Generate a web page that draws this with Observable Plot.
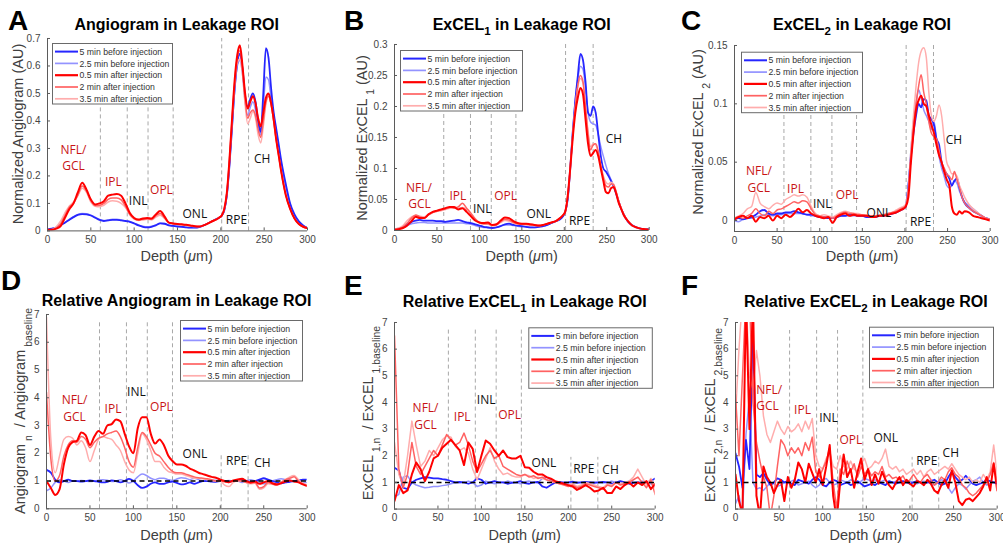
<!DOCTYPE html>
<html><head><meta charset="utf-8">
<script src="https://cdn.jsdelivr.net/npm/d3@7"></script>
<script src="https://cdn.jsdelivr.net/npm/@observablehq/plot@0.6"></script>
<style>
body{margin:0;background:#fff;}
#fig{position:relative;width:1003px;height:546px;overflow:hidden;background:#fff;}
#fig svg{position:absolute;}
</style></head>
<body><div id="fig"></div>
<script>
// ---------------- DATA ----------------
const depthTop = [0,5,10,15,20,25,30,35,40,45,50,55,60,65,70,75,80,85,90,95,100,105,110,115,120,125,130,135,140,145,150,155,160,165,170,175,180,185,190,195,
198,201,204,207,210,213,216,219,222,225,228,231,234,237,240,243,246,249,252,255,258,261,264,267,270,
275,280,285,290,295,300];
const depthRel = [0,5,10,15,20,25,30,35,40,45,50,55,60,65,70,75,80,85,90,95,100,105,110,115,120,125,130,135,140,145,150,155,160,165,170,175,180,185,190,195,200,205,210,215,220,225,230,235,240,245,250,255,260,265,270,275,280,285,290,295,300];
const depthF = [0,4,8,12,16,20,24,28,32,36,40,44,48,52,56,60,64,68,72,76,80,84,88,92,96,100,104,108,112,116,120,124,128,132,136,140,144,148,152,156,160,164,168,172,176,180,184,188,192,196,200,204,208,212,216,220,224,228,232,236,240,244,248,252,256,260,264,268,272,276,280,284,288,292,296,300];

const seriesNames = ["5 min before injection","2.5 min before injection","0.5 min after injection","2 min after injection","3.5 min after injection"];
const xTicks = [0,50,100,150,200,250,300];
const yTicksA = [0,0.1,0.2,0.3,0.4,0.5,0.6,0.7];
const yTicksB = [0,0.05,0.1,0.15,0.2,0.25,0.3];
const yTicksC = [0,0.05,0.1,0.15];
const yTicksRel = [0,1,2,3,4,5,6,7];
const layerNames = ["NFL/","GCL","IPL","INL","OPL","ONL","RPE","CH"];
const layerIsRed = [true,true,true,false,true,false,false,false];
const boundsA = [61,92,116,145,201,232];
const boundsB = [58,89.5,114,143,201.5,234];
const boundsC = [58,89.6,114.3,143.2,201.4,233.5];
const boundsD = [61,92,116,145,201,232];
const boundsE = [62,93,117,146,203,234];
const boundsF = [62,93,117,146,202.5,233];

// A: Normalized angiogram
const angio5 = [0.005,0.008,0.012,0.02,0.03,0.04,0.05,0.058,0.061,0.06,
0.056,0.048,0.04,0.036,0.038,0.04,0.04,0.038,0.036,0.033,
0.027,0.02,0.015,0.013,0.015,0.02,0.027,0.026,0.02,0.018,
0.016,0.015,0.013,0.012,0.012,0.014,0.02,0.027,0.035,0.043,
0.048,0.055,0.075,0.13,0.24,0.38,0.52,0.61,0.645,0.59,0.49,0.45,0.48,0.5,0.47,0.4,0.36,0.5,0.665,0.63,0.52,0.43,0.37,0.31,0.25,
0.17,0.1,0.06,0.035,0.02,0.01];
const angio25 = [0.005,0.008,0.012,0.02,0.03,0.042,0.052,0.06,0.063,0.062,
0.057,0.05,0.042,0.038,0.04,0.042,0.042,0.04,0.037,0.034,
0.028,0.022,0.017,0.015,0.017,0.022,0.028,0.027,0.021,0.018,
0.016,0.015,0.013,0.012,0.012,0.014,0.02,0.027,0.035,0.043,
0.048,0.055,0.075,0.13,0.24,0.38,0.51,0.6,0.62,0.57,0.47,0.42,0.45,0.47,0.44,0.38,0.35,0.45,0.56,0.55,0.48,0.42,0.36,0.3,0.24,
0.16,0.095,0.055,0.032,0.018,0.01];
const angio05 = [0.004,0.004,0.008,0.017,0.047,0.078,0.1,0.14,0.175,0.15,
0.114,0.096,0.1,0.108,0.128,0.132,0.134,0.128,0.1,0.065,
0.047,0.041,0.045,0.047,0.045,0.06,0.072,0.053,0.03,0.027,
0.025,0.024,0.022,0.02,0.017,0.016,0.02,0.027,0.035,0.042,
0.048,0.056,0.08,0.14,0.26,0.41,0.55,0.64,0.675,0.6,0.5,0.445,0.47,0.49,0.465,0.41,0.38,0.43,0.484,0.5,0.465,0.405,0.33,0.27,0.21,
0.13,0.08,0.045,0.025,0.015,0.01];
const angio2 = [0.004,0.004,0.01,0.025,0.055,0.085,0.1,0.13,0.163,0.145,
0.11,0.092,0.093,0.1,0.115,0.12,0.12,0.113,0.09,0.06,
0.045,0.04,0.042,0.044,0.042,0.055,0.063,0.048,0.03,0.026,
0.024,0.023,0.021,0.019,0.017,0.016,0.02,0.027,0.035,0.042,
0.048,0.056,0.08,0.14,0.26,0.41,0.54,0.63,0.655,0.59,0.48,0.41,0.43,0.44,0.42,0.37,0.34,0.4,0.47,0.49,0.46,0.4,0.33,0.27,0.21,
0.13,0.08,0.045,0.025,0.015,0.01];
const angio35 = [0.004,0.005,0.015,0.035,0.065,0.09,0.105,0.128,0.155,0.14,
0.105,0.09,0.088,0.093,0.105,0.11,0.108,0.1,0.085,0.058,
0.043,0.038,0.04,0.042,0.04,0.05,0.057,0.045,0.03,0.026,
0.024,0.022,0.02,0.018,0.016,0.016,0.02,0.027,0.035,0.042,
0.048,0.056,0.08,0.14,0.26,0.4,0.53,0.61,0.625,0.57,0.46,0.39,0.41,0.435,0.41,0.35,0.32,0.38,0.46,0.49,0.46,0.4,0.33,0.27,0.21,
0.13,0.08,0.045,0.025,0.015,0.01];

// B: Normalized ExCEL1
const excel1_5 = [0.002,0.003,0.005,0.01,0.014,0.016,0.017,0.016,0.016,0.016,
0.015,0.015,0.014,0.015,0.016,0.017,0.015,0.013,0.012,0.01,
0.008,0.006,0.005,0.004,0.005,0.007,0.01,0.011,0.009,0.008,
0.007,0.006,0.005,0.005,0.006,0.007,0.009,0.012,0.015,0.018,
0.022,0.03,0.05,0.1,0.16,0.21,0.25,0.285,0.275,0.24,0.19,0.185,0.2,0.19,0.155,0.12,0.1,0.095,0.088,0.08,0.072,0.06,0.047,0.035,0.026,
0.014,0.008,0.005,0.003,0.002,0.002];
const excel1_25 = [0.002,0.003,0.005,0.008,0.011,0.012,0.013,0.013,0.012,0.012,
0.012,0.012,0.012,0.012,0.012,0.012,0.012,0.011,0.01,0.008,
0.006,0.005,0.004,0.004,0.005,0.007,0.009,0.009,0.008,0.007,
0.006,0.006,0.005,0.005,0.006,0.007,0.009,0.012,0.015,0.018,
0.022,0.03,0.05,0.1,0.16,0.21,0.245,0.265,0.26,0.23,0.19,0.175,0.172,0.17,0.155,0.135,0.12,0.105,0.092,0.082,0.072,0.06,0.047,0.035,0.026,
0.015,0.009,0.005,0.003,0.002,0.002];
const excel1_05 = [0.001,0.002,0.004,0.008,0.015,0.022,0.02,0.02,0.026,0.03,
0.032,0.034,0.036,0.038,0.038,0.034,0.036,0.03,0.023,0.016,
0.013,0.012,0.013,0.009,0.01,0.016,0.021,0.02,0.015,0.012,
0.011,0.011,0.01,0.009,0.008,0.009,0.011,0.013,0.015,0.02,
0.024,0.03,0.055,0.1,0.15,0.19,0.215,0.23,0.22,0.18,0.14,0.12,0.125,0.13,0.12,0.1,0.08,0.062,0.06,0.068,0.07,0.06,0.045,0.035,0.025,
0.015,0.008,0.005,0.003,0.002,0.001];
const excel1_2 = [0.001,0.003,0.006,0.012,0.02,0.025,0.022,0.02,0.025,0.029,
0.031,0.033,0.035,0.037,0.036,0.038,0.044,0.036,0.028,0.019,
0.013,0.011,0.011,0.008,0.009,0.014,0.018,0.017,0.013,0.011,
0.01,0.01,0.009,0.009,0.008,0.009,0.011,0.013,0.015,0.02,
0.024,0.03,0.055,0.1,0.155,0.2,0.235,0.25,0.24,0.2,0.155,0.13,0.138,0.14,0.128,0.105,0.085,0.072,0.07,0.075,0.074,0.063,0.048,0.036,0.026,
0.015,0.008,0.005,0.003,0.002,0.001];
const excel1_35 = [0.002,0.004,0.008,0.016,0.022,0.024,0.023,0.022,0.026,0.029,
0.031,0.032,0.034,0.036,0.038,0.036,0.037,0.034,0.026,0.018,
0.012,0.01,0.01,0.008,0.009,0.013,0.016,0.015,0.012,0.01,
0.01,0.009,0.009,0.008,0.008,0.009,0.011,0.013,0.015,0.02,
0.024,0.03,0.055,0.1,0.155,0.2,0.232,0.245,0.238,0.2,0.16,0.135,0.14,0.138,0.125,0.105,0.088,0.078,0.075,0.078,0.075,0.063,0.048,0.036,0.026,
0.015,0.008,0.005,0.003,0.002,0.001];

// C: Normalized ExCEL2
const excel2_5 = [0.001,0.002,0.001,0.002,0.003,0.005,0.008,0.009,0.006,0.005,
0.006,0.006,0.007,0.007,0.008,0.007,0.006,0.005,0.005,0.004,
0.003,0.003,0.002,0.002,0.003,0.004,0.004,0.005,0.005,0.004,
0.004,0.003,0.003,0.003,0.004,0.004,0.005,0.006,0.007,0.009,
0.01,0.012,0.03,0.055,0.075,0.09,0.1,0.097,0.104,0.103,0.09,0.087,0.082,0.07,0.065,0.05,0.043,0.04,0.036,0.03,0.034,0.036,0.028,0.02,0.015,
0.011,0.008,0.006,0.004,0.002,0.001];
const excel2_25 = [0.0,-0.001,0.001,0.002,0.002,0.003,0.004,0.005,0.005,0.004,
0.005,0.005,0.006,0.006,0.006,0.006,0.006,0.005,0.004,0.004,
0.003,0.002,0.002,0.002,0.003,0.004,0.004,0.004,0.004,0.004,
0.004,0.003,0.003,0.003,0.004,0.004,0.005,0.006,0.007,0.009,
0.01,0.012,0.03,0.06,0.085,0.1,0.112,0.105,0.095,0.09,0.085,0.078,0.085,0.07,0.055,0.045,0.038,0.03,0.028,0.03,0.034,0.032,0.025,0.02,0.016,
0.013,0.01,0.007,0.004,0.002,0.001];
const excel2_05 = [0.001,0.003,0.004,0.002,0.004,-0.001,0.003,0.002,0.004,0.0,
0.004,0.002,0.005,0.003,0.006,0.01,0.007,0.009,0.006,0.004,
0.003,0.002,0.003,-0.002,0.003,0.005,0.006,0.004,0.005,0.004,
0.004,0.004,0.003,0.003,0.004,0.004,0.005,0.006,0.007,0.009,
0.01,0.012,0.02,0.05,0.075,0.095,0.103,0.107,0.1,0.098,0.09,0.082,0.075,0.065,0.056,0.05,0.042,0.035,0.03,0.012,0.006,0.005,0.008,0.006,0.008,
0.007,0.004,0.003,0.002,0.001,0.0];
const excel2_2 = [0.002,0.003,0.002,0.004,0.006,0.01,0.006,0.004,0.008,0.006,
0.009,0.01,0.012,0.014,0.016,0.015,0.017,0.016,0.01,0.005,
0.004,0.003,0.003,0.002,0.004,0.006,0.007,0.006,0.006,0.005,
0.005,0.004,0.004,0.004,0.004,0.005,0.006,0.007,0.008,0.01,
0.011,0.013,0.025,0.055,0.08,0.1,0.115,0.125,0.11,0.1,0.085,0.075,0.072,0.07,0.06,0.05,0.045,0.04,0.038,0.035,0.042,0.035,0.028,0.02,0.015,
0.011,0.008,0.006,0.004,0.002,0.001];
const excel2_35 = [0.002,0.004,0.006,0.01,0.012,0.024,0.015,0.012,0.01,0.013,
0.015,0.014,0.018,0.02,0.022,0.021,0.022,0.02,0.012,0.006,
0.004,0.005,0.004,0.003,0.005,0.007,0.008,0.007,0.006,0.006,
0.005,0.005,0.004,0.004,0.005,0.005,0.006,0.007,0.009,0.011,
0.012,0.014,0.028,0.06,0.09,0.115,0.135,0.145,0.148,0.14,0.11,0.09,0.085,0.09,0.099,0.09,0.07,0.05,0.045,0.04,0.04,0.038,0.03,0.025,0.02,
0.014,0.01,0.007,0.004,0.002,0.001];

// D: Relative angiogram
const relAngio5 = [1.4,1.3,1.05,0.95,1.0,1.05,1.0,1.0,0.98,1.0,
1.02,1.0,0.97,0.95,0.97,1.02,1.0,0.95,1.0,1.08,
1.0,0.85,0.75,0.8,0.9,0.95,0.9,0.9,0.95,0.98,
0.93,0.88,0.9,0.95,0.9,0.95,1.0,1.0,0.98,0.97,
1.0,1.0,0.98,1.0,1.0,1.05,1.0,0.95,1.0,1.05,
1.1,1.05,1.0,0.95,0.92,0.95,0.97,1.0,1.02,1.05,1.05];
const relAngio25 = [0.65,0.75,0.95,1.05,1.0,0.95,1.0,1.0,1.02,1.0,
0.98,1.0,1.03,1.05,1.03,0.98,1.0,1.05,1.0,0.93,
1.0,1.15,1.25,1.2,1.1,1.05,1.1,1.1,1.05,1.02,
1.07,1.12,1.1,1.05,1.1,1.05,1.0,1.0,1.02,1.03,
1.0,1.0,1.02,1.0,1.0,0.95,1.0,1.05,1.0,0.95,
0.9,0.95,1.0,1.05,1.08,1.05,1.03,1.0,0.98,0.95,0.95];
const relAngio05 = [1.0,0.75,0.5,0.7,1.6,2.2,2.4,2.45,2.75,2.65,
2.3,2.6,2.8,2.7,3.0,3.05,3.22,3.15,2.7,2.25,
2.0,2.9,3.3,3.3,2.7,2.35,2.5,2.3,1.92,1.72,
1.6,1.6,1.55,1.45,1.38,1.3,1.25,1.2,1.15,1.12,
1.05,1.0,0.96,1.02,1.06,1.08,1.0,0.95,0.98,0.9,
0.95,1.0,0.92,0.88,0.92,0.98,1.02,0.98,0.95,0.88,0.82];
const relAngio2 = [4.2,1.8,1.0,1.2,1.9,2.3,2.45,2.4,2.6,2.5,
2.2,2.4,2.55,2.6,2.7,2.75,2.8,2.6,2.2,1.7,
1.5,2.2,2.75,2.6,2.3,2.0,1.9,1.7,1.5,1.35,
1.3,1.3,1.25,1.2,1.15,1.12,1.1,1.08,1.05,1.0,
1.02,0.97,0.95,1.0,1.02,1.0,0.95,0.92,0.95,0.75,
0.8,0.95,0.9,0.85,0.95,1.05,1.1,1.15,1.0,0.9,0.85];
const relAngio35 = [6.9,2.5,1.3,1.9,2.5,2.6,2.55,2.3,2.45,2.2,
1.7,2.1,2.5,2.6,2.55,2.5,2.3,2.1,1.7,1.4,
1.3,2.0,2.7,2.5,2.1,1.7,1.7,1.5,1.35,1.3,
1.25,1.25,1.2,1.15,1.1,1.1,1.08,1.05,1.02,1.0,
1.0,0.85,0.8,0.95,1.0,1.0,0.95,0.9,0.92,0.7,
0.75,0.9,0.88,0.85,0.95,1.05,1.15,1.2,1.05,0.92,0.85];

// E: Relative ExCEL1
const relExcel1_5 = [1.55,1.45,0.8,0.75,1.0,1.1,1.15,1.2,1.18,1.15,
1.15,1.12,1.1,1.05,1.0,1.02,1.0,0.95,1.0,1.15,
1.1,0.95,1.0,1.05,1.0,1.0,0.95,0.98,1.0,1.05,
0.97,0.95,1.0,1.02,0.85,0.8,0.9,1.0,1.02,0.98,
1.0,1.03,0.98,1.0,1.02,1.0,0.98,1.0,1.02,1.0,
0.95,1.0,1.05,1.0,0.95,0.98,1.0,0.95,1.0,1.05,1.15];
const relExcel1_25 = [0.45,0.55,1.2,1.25,1.0,0.9,0.85,0.8,0.82,0.85,
0.85,0.88,0.9,0.95,1.0,0.98,1.0,1.05,1.0,0.85,
0.9,1.05,1.0,0.95,1.0,1.0,1.05,1.02,1.0,0.95,
1.03,1.05,1.0,0.98,1.15,1.2,1.1,1.0,0.98,1.02,
1.0,0.97,1.02,1.0,0.98,1.0,1.02,1.0,0.98,1.0,
1.05,1.0,0.95,1.0,1.05,1.02,1.0,1.05,1.0,0.95,0.85];
const relExcel1_05 = [0.3,0.9,0.6,0.7,1.3,1.75,1.5,1.05,1.4,1.9,
2.0,2.3,2.45,2.6,2.4,2.2,1.65,2.5,2.26,1.39,
2.0,2.57,2.45,2.2,2.0,2.2,1.95,1.9,1.9,2.0,
1.57,1.55,1.4,1.3,1.3,1.2,1.14,1.05,1.0,0.95,
0.9,0.85,0.72,0.8,0.9,0.8,0.66,0.7,0.8,0.6,
0.6,0.85,0.75,0.9,1.0,0.85,1.0,0.9,1.05,0.75,0.95];
const relExcel1_2 = [6.5,1.5,0.8,1.3,2.5,1.6,1.3,1.6,1.9,2.2,
2.0,2.4,2.8,2.6,2.4,2.5,2.85,2.4,1.8,1.4,
1.7,2.0,2.2,1.9,2.0,1.6,1.5,1.4,1.3,1.25,
1.3,1.2,1.25,1.15,1.2,1.1,1.05,1.0,0.95,0.9,
0.85,0.9,0.8,0.85,0.95,0.9,0.85,0.8,0.75,0.9,
0.85,1.0,0.9,0.95,1.0,1.1,1.2,1.0,0.8,1.1,0.55];
const relExcel1_35 = [2.5,1.3,0.9,2.0,3.3,2.4,1.6,1.8,2.2,2.0,
2.3,2.6,2.75,2.7,2.35,2.2,2.3,2.1,1.5,1.1,
1.5,1.9,2.3,1.8,1.5,1.3,1.35,1.25,1.2,1.2,
1.3,1.25,1.15,1.2,1.15,1.1,1.05,1.0,0.95,0.92,
0.9,0.95,0.85,0.9,1.0,0.95,0.9,0.85,0.8,0.95,
0.9,1.0,0.95,1.0,1.05,1.2,1.5,1.2,0.9,1.15,0.8];

// F: Relative ExCEL2
const relExcel2_5 = [2.1,1.6,0.8,2.6,1.5,6.6,1.3,1.2,1.35,1.1,
0.9,1.0,1.15,1.1,1.0,1.05,0.95,0.9,1.1,1.05,
1.0,0.95,1.1,1.2,1.1,0.9,0.85,1.0,1.1,1.05,
0.9,0.95,1.0,0.9,0.95,1.05,0.95,0.85,0.9,0.95,
0.9,1.0,0.95,0.9,1.05,1.0,0.95,1.0,1.05,1.0,
0.95,1.0,1.05,1.0,0.95,1.0,1.05,1.1,1.0,0.9,
0.95,1.2,1.4,1.2,1.05,1.1,1.25,1.1,0.95,0.9,
0.95,1.0,1.1,1.05,1.0,0.95];
const relExcel2_25 = [0.2,0.5,-0.2,2.8,4.2,1.0,0.75,0.8,0.7,0.85,
1.0,0.95,0.85,0.9,1.0,0.95,1.05,1.1,0.9,0.95,
1.0,1.05,0.9,0.8,0.9,1.1,1.15,1.0,0.9,0.95,
1.1,1.05,1.0,1.1,1.05,0.95,1.05,1.15,1.1,1.05,
1.1,1.0,1.05,1.1,0.95,1.0,1.05,1.0,0.95,1.0,
1.05,1.0,0.95,1.0,1.05,1.0,0.95,0.9,1.0,1.1,
1.05,0.8,0.6,0.8,0.95,0.9,0.75,0.9,1.05,1.1,
1.2,1.0,0.9,0.95,1.0,1.05];
const relExcel2_05 = [1.3,0.3,-0.2,8,3.0,8,0.5,-0.3,1.6,1.2,
1.0,0.6,0.9,1.1,0.3,1.2,0.8,1.1,1.75,1.5,
1.0,1.7,1.35,1.0,1.5,0.9,1.6,2.4,0.5,-0.4,
1.0,2.05,1.2,1.5,0.8,1.4,1.9,1.1,1.5,0.9,
1.3,0.95,1.4,1.1,0.9,0.75,1.0,1.2,0.9,1.1,
0.95,0.85,1.05,1.0,0.9,1.1,0.95,0.7,0.6,0.9,
1.1,0.8,1.45,1.0,0.3,0.15,0.35,0.4,0.3,0.45,
0.6,0.85,1.2,0.7,1.7,0.7];
const relExcel2_2 = [4.3,2.0,5.0,8,8,4.0,2.5,1.8,1.2,0.8,
-0.3,0.5,1.6,2.6,2.4,2.0,2.3,2.1,2.3,2.0,
2.5,2.2,2.7,1.4,1.2,1.5,1.8,2.3,1.0,0.0,
1.5,1.3,1.8,1.4,1.7,1.2,1.6,1.3,1.5,1.25,
1.4,1.3,1.6,1.2,1.3,1.15,1.2,1.1,1.25,1.0,
1.1,1.3,1.1,1.0,1.2,1.3,1.1,0.9,1.0,1.2,
1.1,1.4,1.55,1.3,1.2,0.9,0.8,0.6,0.5,0.6,
0.75,0.9,1.0,1.3,1.75,1.0];
const relExcel2_35 = [3.5,6.0,8,8,5.0,4.5,5.95,5.0,3.5,2.8,
2.5,2.9,3.3,3.0,2.8,3.1,2.9,3.0,3.2,2.9,
3.3,3.0,3.4,2.0,1.6,1.5,1.9,2.1,1.6,1.5,
2.0,1.6,1.5,1.8,1.5,1.4,1.7,1.9,1.5,1.6,
1.8,1.7,1.9,2.25,1.6,1.5,1.6,1.4,1.5,1.3,
1.4,1.5,1.3,1.45,1.2,1.4,1.5,1.3,1.4,1.5,
1.6,1.5,1.7,1.5,1.3,1.2,1.1,1.2,1.0,1.1,
1.0,1.3,1.1,1.4,2.4,1.3];

// ---------------- STYLE / LAYOUT ----------------
const colors = ["#2626ff","#9393ff","#ff0000","#ff6262","#ffadad"];
const widths = [1.8,1.5,2,1.5,1.5];
const drawOrder = [1,0,4,3,2];
const RED = "#c81414", BLACK = "#111";
const FONT = "'Liberation Sans', Arial, Helvetica, sans-serif";

const panels = [
  {box:[46.7,306.7,38.3,230.7], yDomain:[0,0.7], yTicks:yTicksA, depth:depthTop, series:[angio5,angio25,angio05,angio2,angio35],
   bounds:boundsA, shortTop:0.45, curve:"monotone-x",
   lab:[[30,0.292],[30,0.236],[76,0.177],[104.6,0.11],[131.5,0.15],[170,0.062],[218,0.038],[247.7,0.26]]},
  {box:[394.3,649,44,230], yDomain:[0,0.3], yTicks:yTicksB, depth:depthTop, series:[excel1_5,excel1_25,excel1_05,excel1_2,excel1_35],
   bounds:boundsB, shortTop:0.193, curve:"monotone-x",
   lab:[[28.7,0.069],[29.5,0.043],[74.6,0.055],[103.3,0.035],[130.8,0.056],[170,0.026],[218,0.0145],[258.4,0.147]]},
  {box:[734.3,990,45,231], yDomain:[-0.0094,0.15], yTicks:yTicksC, depth:depthTop, series:[excel2_5,excel2_25,excel2_05,excel2_2,excel2_35],
   bounds:boundsC, shortTop:0.09, curve:"monotone-x",
   lab:[[28.6,0.042],[28.6,0.028],[71.6,0.027],[102.9,0.0143],[132.2,0.0214],[169.4,0.0063],[218.3,-0.0014],[257.4,0.0686]]},
  {box:[46,306.7,314,508.3], yDomain:[0,7], yTicks:yTicksRel, depth:depthRel, series:[relAngio5,relAngio25,relAngio05,relAngio2,relAngio35],
   bounds:boundsD, shortTop:6.75, longTop:2.0, curve:"monotone-x", baseline:true,
   lab:[[32.3,3.92],[32.3,3.3],[76.5,3.58],[103.5,4.2],[132.3,3.66],[170.8,1.96],[218.8,1.7],[248.5,1.66]]},
  {box:[394.3,655,321.7,508.3], yDomain:[0,7], yTicks:yTicksRel, depth:depthRel, series:[relExcel1_5,relExcel1_25,relExcel1_05,relExcel1_2,relExcel1_35],
   bounds:boundsE, shortTop:6.75, longTop:1.94, curve:"linear", baseline:true,
   lab:[[35.7,3.78],[35.7,3.16],[77.9,3.43],[105.5,4.1],[132.4,3.54],[171.9,1.73],[217.9,1.51],[248.6,1.45]]},
  {box:[735,996.7,321.7,508.3], yDomain:[0,7], yTicks:yTicksRel, depth:depthF, series:[relExcel2_5,relExcel2_25,relExcel2_05,relExcel2_2,relExcel2_35],
   bounds:boundsF, shortTop:6.7, longTop:1.94, curve:"linear", baseline:true,
   lab:[[38.6,4.47],[36.7,3.86],[76.8,3.7],[106.6,3.41],[132.2,2.58],[172.3,2.66],[219.3,1.79],[246.8,2.08]]}
];

const fig = document.getElementById("fig");

function makePanel(p){
  const mL=40,mR=14,mT=8,mB=22;
  const [L,R,T,B] = p.box;
  const fw=R-L, fh=B-T;
  const [y0,y1] = p.yDomain;
  const longTop = p.longTop ?? y1;
  const bnds = p.bounds.map((x,i)=>({x, top: i<4 ? p.shortTop : longTop}));
  const labels = layerNames.map((t,i)=>({t, x:p.lab[i][0], y:p.lab[i][1], c: layerIsRed[i]?RED:BLACK}));
  const marks = [
    Plot.ruleX(bnds,{x:"x", y1:()=>y0, y2:"top", stroke:"#a8a8a8", strokeWidth:1, strokeDasharray:"4,3"})
  ];
  for (const k of drawOrder){
    const rows = p.series[k].map((v,i)=>({depth:p.depth[i], v}));
    marks.push(Plot.line(rows,{x:"depth", y:"v", stroke:colors[k], strokeWidth:widths[k], curve:p.curve, clip:true}));
  }
  if (p.baseline) marks.push(Plot.ruleY([1],{stroke:"#000", strokeWidth:1.6, strokeDasharray:"5,3.5"}));
  marks.push(Plot.text(labels,{x:"x", y:"y", text:"t", fill:"c", fontSize:12, fontFamily:"'Open Sans', sans-serif"}));
  marks.push(Plot.ruleY([y0],{stroke:"#5a5a5a"}));
  marks.push(Plot.ruleX([0],{stroke:"#5a5a5a"}));
  marks.push(Plot.tickX(xTicks,{x:d=>d, insetTop: fh-3, stroke:"#5a5a5a"}));
  marks.push(Plot.tickY(p.yTicks,{y:d=>d, insetRight: fw-3, stroke:"#5a5a5a"}));
  marks.push(Plot.axisX(xTicks,{tickSize:0, tickPadding:5, fontSize:10, label:null, tickFormat:d=>String(d)}));
  marks.push(Plot.axisY(p.yTicks,{tickSize:0, tickPadding:7, fontSize:10, label:null, tickFormat:d=>String(d)}));
  const svg = Plot.plot({
    width: fw+mL+mR, height: fh+mT+mB,
    marginLeft:mL, marginRight:mR, marginTop:mT, marginBottom:mB,
    x:{domain:[0,300], label:null},
    y:{domain:p.yDomain, label:null},
    color:{type:"identity"},
    style:{fontFamily:FONT, fontSize:"10px", color:"#444", background:"transparent", overflow:"visible"},
    marks
  });
  svg.style.position="absolute";
  svg.style.left=(L-mL)+"px";
  svg.style.top=(T-mT)+"px";
  fig.appendChild(svg);
}
panels.forEach(makePanel);

// ---------------- OVERLAY TEXT / LEGENDS ----------------
const ov = d3.select(fig).append("svg").attr("width",1003).attr("height",546)
  .style("left","0px").style("top","0px").style("pointer-events","none")
  .attr("font-family",FONT);

function rich(sel, parts, subShift){
  let shifted = false;
  for (const [t,kind] of parts){
    const ts = sel.append("tspan").text(t);
    if (kind==="sub"){
      ts.attr("font-size","72%");
      if(!shifted){ts.attr("dy",subShift); shifted=true;}
    } else {
      if(shifted){ts.attr("dy",-subShift); shifted=false;}
      if(kind==="it") ts.attr("font-style","italic");
    }
  }
}

// panel letters
[["A",8,30],["B",344,30],["C",681,30],["D",1,290],["E",344,295],["F",681,295]].forEach(([t,x,y])=>{
  ov.append("text").attr("x",x).attr("y",y).attr("font-size",28).attr("font-weight","bold").attr("fill","#000").text(t);
});

// titles
const titles = [
  [176.7,29.5,[["Angiogram in Leakage ROI","n"]]],
  [521.7,29.5,[["ExCEL","n"],["1","sub"],[" in Leakage ROI","n"]]],
  [862,29.5,[["ExCEL","n"],["2","sub"],[" in Leakage ROI","n"]]],
  [176.5,305.5,[["Relative Angiogram in Leakage ROI","n"]]],
  [524.7,307,[["Relative ExCEL","n"],["1","sub"],[" in Leakage ROI","n"]]],
  [865.8,307,[["Relative ExCEL","n"],["2","sub"],[" in Leakage ROI","n"]]]
];
titles.forEach(([x,y,parts])=>{
  const t = ov.append("text").attr("x",x).attr("y",y).attr("text-anchor","middle")
    .attr("font-size",16).attr("font-weight","bold").attr("fill","#000");
  rich(t,parts,5);
});

// x labels
[[176.7,260.5],[521.7,260.5],[862,260.5],[176.5,540],[524.7,540],[865.8,540]].forEach(([x,y])=>{
  const t = ov.append("text").attr("x",x).attr("y",y).attr("text-anchor","middle")
    .attr("font-size",14.5).attr("fill","#404040");
  rich(t,[["Depth (","n"],["\u03bc","it"],["m)","n"]],0);
});

// y labels
const ylabels = [
  [23,134,[["Normalized Angiogram (AU)","n"]]],
  [366.5,138,[["Normalized ExCEL ","n"],["1","sub"],[" (AU)","n"]]],
  [703,132,[["Normalized ExCEL ","n"],["2","sub"],[" (AU)","n"]]],
  [25,411,[["Angiogram","n"],[" n","sub"],["  / Angiogram","n"],[" baseline","sub"]]],
  [373,413,[["ExCEL","n"],[" 1,n","sub"],["  / ExCEL","n"],[" 1,baseline","sub"]]],
  [715,415,[["ExCEL","n"],[" 2,n","sub"],["  / ExCEL","n"],[" 2,baseline","sub"]]]
];
ylabels.forEach(([x,y,parts])=>{
  const t = ov.append("text").attr("transform",`translate(${x},${y}) rotate(-90)`)
    .attr("text-anchor","middle").attr("font-size",14.5).attr("fill","#404040").style("white-space","pre");
  rich(t,parts,7);
});

// legends
const legends = [[52,43,120],[400,50,122],[741,51.7,121],[180,320,122],[528.3,327.3,123.5],[869,326.7,124]];
legends.forEach(([x,y,w])=>{
  const g = ov.append("g");
  g.append("rect").attr("x",x+0.5).attr("y",y+0.5).attr("width",w).attr("height",60.5)
    .attr("fill","#fff").attr("stroke","#6a6a6a").attr("stroke-width",1);
  seriesNames.forEach((name,i)=>{
    const cy = y + 8.6 + 11.8*i;
    g.append("line").attr("x1",x+3).attr("x2",x+26).attr("y1",cy).attr("y2",cy)
      .attr("stroke",colors[i]).attr("stroke-width",widths[i]+0.2);
    g.append("text").attr("x",x+27.5).attr("y",cy+3.1).attr("font-size",8.7).attr("fill","#333").text(name);
  });
});
</script>
</body></html>
